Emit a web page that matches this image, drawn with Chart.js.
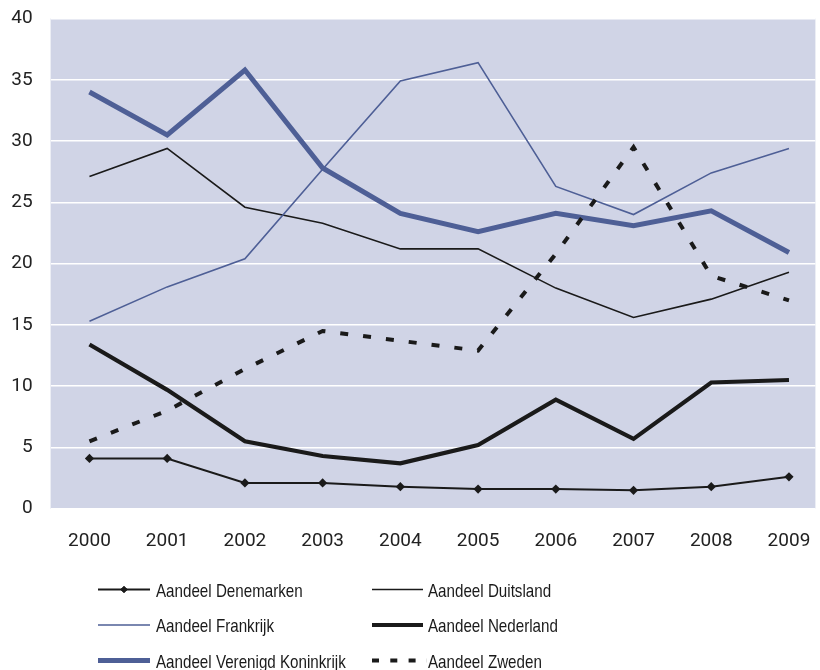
<!DOCTYPE html>
<html lang="nl">
<head>
  <meta charset="UTF-8">
  <title>Aandeel per land 2000-2009</title>
  <script src="https://cdn.jsdelivr.net/npm/chart.js@4"></script>
  <style>
    html, body {
      margin: 0;
      padding: 0;
      background: #ffffff;
      overflow: hidden;
    }
    #chart {
      display: block;
    }
  </style>
</head>
<body>
  <canvas id="chart" width="820" height="670"></canvas>

  <script>
    // jaren en aandelen per land (%)
    const years = [2000, 2001, 2002, 2003, 2004, 2005, 2006, 2007, 2008, 2009];
    const yTicks = [0, 5, 10, 15, 20, 25, 30, 35, 40];

    const denemarken = [4.1, 4.1, 2.1, 2.1, 1.8, 1.6, 1.6, 1.5, 1.8, 2.6];
    const duitsland = [27.1, 29.4, 24.6, 23.3, 21.2, 21.2, 18.0, 15.6, 17.1, 19.3];
    const frankrijk = [15.3, 18.1, 20.4, 27.7, 34.9, 36.4, 26.3, 24.0, 27.4, 29.4];
    const nederland = [13.4, 9.7, 5.5, 4.3, 3.7, 5.2, 8.9, 5.7, 10.3, 10.5];
    const verenigdKoninkrijk = [34.0, 30.5, 35.8, 27.8, 24.1, 22.6, 24.1, 23.1, 24.3, 20.9];
    const zweden = [5.5, 8.0, 11.4, 14.5, 13.7, 12.9, 20.8, 29.5, 19.0, 17.0];

    const BLUE = '#4e5f96';
    const BLACK = '#1a1a1a';
    const PLOT_BG = '#d0d4e6';

    function serie(label, data, color, width, extra) {
      return Object.assign({
        label: label,
        data: data,
        borderColor: color,
        backgroundColor: color,
        borderWidth: width,
        pointRadius: 0,
        pointHoverRadius: 0,
        tension: 0,
        fill: false
      }, extra || {});
    }

    const datasets = [
      serie('Aandeel Denemarken', denemarken, BLACK, 2, {
        pointRadius: 4.6, pointStyle: 'rectRot', pointBorderWidth: 0
      }),
      serie('Aandeel Duitsland', duitsland, BLACK, 1.6),
      serie('Aandeel Frankrijk', frankrijk, BLUE, 1.6),
      serie('Aandeel Nederland', nederland, BLACK, 4.2),
      serie('Aandeel Verenigd Koninkrijk', verenigdKoninkrijk, BLUE, 5),
      serie('Aandeel Zweden', zweden, BLACK, 4, {
        borderDash: [8, 15], legendDash: [7, 11.3]
      })
    ];
    // laatste serie bovenop tekenen
    datasets.forEach((ds, i) => { ds.order = datasets.length - i; });

    // achtergrond van het plotgebied
    const plotBackground = {
      id: 'plotBackground',
      beforeDraw(chart) {
        const { ctx, chartArea } = chart;
        ctx.save();
        ctx.fillStyle = PLOT_BG;
        ctx.fillRect(chartArea.left, chartArea.top,
          chartArea.right - chartArea.left, chartArea.bottom - chartArea.top);
        ctx.restore();
      }
    };

    // legenda in twee kolommen onder de grafiek (smalle letter)
    const twoColumnLegend = {
      id: 'twoColumnLegend',
      afterDraw(chart) {
        const ctx = chart.ctx;
        const cols = [{ x0: 98, x1: 150, tx: 156 }, { x0: 372, x1: 427, tx: 428 }];
        const rows = [589.5, 625, 660.5];
        ctx.save();
        ctx.font = '18.5px "Liberation Sans", Arial, sans-serif';
        ctx.textBaseline = 'alphabetic';
        ctx.textAlign = 'left';
        chart.data.datasets.forEach((ds, i) => {
          const col = cols[i % 2];
          const y = rows[Math.floor(i / 2)];
          ctx.strokeStyle = ds.borderColor;
          ctx.lineWidth = ds.borderWidth;
          ctx.setLineDash(ds.legendDash || []);
          ctx.beginPath();
          ctx.moveTo(col.x0, y);
          ctx.lineTo(i % 2 === 1 && !ds.legendDash ? col.x1 - 4 : col.x1, y);
          ctx.stroke();
          ctx.setLineDash([]);
          if (ds.pointStyle) {
            Chart.helpers.drawPoint(ctx, {
              pointStyle: ds.pointStyle, radius: 3.6, borderWidth: 0
            }, (col.x0 + col.x1) / 2, y);
            ctx.fillStyle = ds.borderColor;
            ctx.fill();
          }
          ctx.save();
          ctx.translate(col.tx, y + 7);
          ctx.scale(0.82, 1);
          ctx.fillStyle = '#1a1a1a';
          ctx.fillText(ds.label, 0, 0);
          ctx.restore();
        });
        ctx.restore();
      }
    };

    new Chart(document.getElementById('chart'), {
      type: 'line',
      data: {
        labels: years,
        datasets: datasets
      },
      options: {
        responsive: false,
        animation: false,
        events: [],
        layout: {
          padding: { top: 18.5, left: 0, right: 0, bottom: 101.3 }
        },
        plugins: {
          legend: { display: false },
          tooltip: { enabled: false }
        },
        scales: {
          x: {
            type: 'linear',
            min: 1999.5,
            max: 2009.34,
            grid: { display: false, drawTicks: true, tickLength: 21 },
            border: { display: false },
            afterBuildTicks: (scale) => {
              scale.ticks = years.map(v => ({ value: v }));
            },
            afterFit: (scale) => { scale.height = 60; },
            ticks: {
              autoSkip: false,
              maxRotation: 0,
              padding: 0,
              color: '#222222',
              font: { family: 'Roboto', size: 19 },
              callback: (value) => String(value)
            }
          },
          y: {
            min: 0,
            max: 40,
            grid: {
              color: '#ffffff', lineWidth: 1.6,
              drawTicks: true, tickLength: 18, tickColor: 'rgba(0,0,0,0)'
            },
            border: { display: false },
            afterBuildTicks: (scale) => {
              scale.ticks = yTicks.map(v => ({ value: v }));
            },
            afterFit: (scale) => { scale.width = 50.6; },
            ticks: {
              padding: 0,
              color: '#222222',
              font: { family: 'Roboto', size: 19 },
              callback: (value) => String(value)
            }
          }
        }
      },
      plugins: [plotBackground, twoColumnLegend]
    });
  </script>
</body>
</html>
